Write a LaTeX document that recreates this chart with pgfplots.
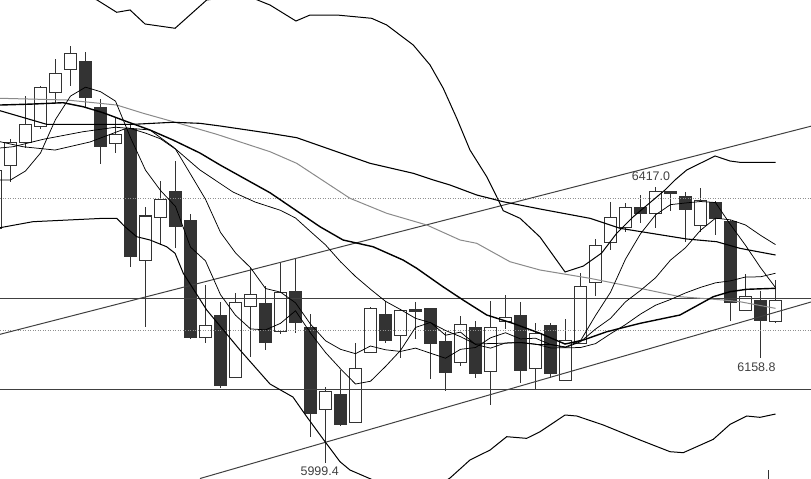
\documentclass[border=0pt]{standalone}
\usepackage{pgfplots}
\pgfplotsset{compat=1.18}
\usepackage{pgfplotstable}
\usepackage{fontspec}
\setmainfont{Liberation Sans}

\definecolor{candle}{HTML}{333333}
\definecolor{lvl}{HTML}{404040}
\definecolor{ma60}{HTML}{8A8A8A}
\definecolor{dots}{HTML}{909090}

% candles: index, open, high, low, close
\pgfplotstableread{
k o h l c
-1 6355.0 6445.8 6349.0 6442.8
0 6450.4 6489.7 6424.6 6484.4
1 6484.4 6554.0 6476.8 6511.9
2 6509.4 6570.3 6504.8 6567.9
3 6560.4 6610.7 6543.7 6589.1
4 6595.1 6630.4 6570.6 6619.4
7 6483.2 6523.0 6468.1 6496.8
9 6306.6 6387.3 6205.7 6373.2
10 6371.2 6426.1 6329.3 6398.5
13 6189.7 6268.8 6180.6 6208.3
15 6129.1 6257.1 6128.1 6242.6
16 6236.0 6294.1 6160.3 6254.7
18 6199.2 6302.5 6194.2 6257.8
21 6080.7 6114.9 5999.4 6107.4
23 6061.1 6180.6 6060.0 6142.8
24 6167.0 6235.5 6165.9 6233.5
26 6192.1 6231.0 6157.9 6229.5
30 6151.8 6221.9 6146.7 6209.3
32 6138.7 6244.6 6087.2 6204.8
33 6214.3 6253.7 6201.8 6219.9
35 6142.8 6211.8 6111.4 6195.7
37 6125.1 6217.4 6125.1 6185.6
38 6180.6 6287.4 6180.6 6267.3
39 6272.9 6338.4 6252.6 6329.3
40 6333.4 6394.8 6321.7 6371.2
41 6355.5 6392.4 6349.0 6386.4
43 6377.3 6417.0 6355.5 6410.3
46 6358.5 6416.0 6348.5 6397.4
49 6229.9 6285.4 6229.5 6251.1
51 6214.3 6276.4 6210.8 6246.1
}\upcandles

\pgfplotstableread{
k o h l c
5 6607.7 6621.8 6536.1 6552.2
6 6537.7 6549.8 6451.4 6478.0
8 6504.4 6510.9 6295.6 6312.7
11 6411.0 6456.4 6324.8 6357.0
12 6367.1 6376.2 6187.1 6189.1
14 6223.4 6243.5 6113.4 6117.5
17 6241.1 6267.3 6170.4 6181.5
19 6259.7 6307.7 6195.7 6212.4
20 6204.8 6224.5 6039.3 6074.7
22 6102.4 6140.2 6055.5 6058.0
25 6224.9 6244.6 6180.6 6185.6
27 6231.7 6242.6 6186.6 6229.5
28 6233.5 6234.0 6126.1 6180.6
29 6184.1 6198.1 6108.9 6136.7
31 6204.8 6214.3 6127.6 6135.2
34 6223.4 6243.5 6121.0 6139.1
36 6208.3 6210.8 6127.6 6135.2
42 6386.4 6405.0 6363.1 6377.3
44 6411.0 6411.0 6380.8 6407.2
45 6403.5 6409.1 6333.9 6383.3
47 6394.4 6395.9 6344.4 6369.7
48 6364.6 6367.1 6214.8 6242.6
50 6246.1 6259.7 6158.8 6214.8
}\downcandles

\pgfplotsset{
  bar/.style 2 args={draw=none, no markers, forget plot,
    error bars/.cd, y dir=both, y explicit, error mark=none,
    error bar style={solid, line width=#1, draw=#2}},
  thin/.style={black, line width=0.75bp, no markers},
}

\begin{document}
\begin{tikzpicture}
\begin{axis}[
  width=811bp, height=479bp, scale only axis,
  xmin=-0.7, xmax=53.3667,
  ymin=5975.3, ymax=6700,
  ticks=none, axis line style={draw=none},
  clip=true,
]

% wicks
\addplot[bar={1bp}{candle}] table[x=k, y expr={(\thisrow{h}+\thisrow{l})/2},
  y error expr={(\thisrow{h}-\thisrow{l})/2}] {\upcandles};
\addplot[bar={1bp}{candle}] table[x=k, y expr={(\thisrow{h}+\thisrow{l})/2},
  y error expr={(\thisrow{h}-\thisrow{l})/2}] {\downcandles};

% bodies
\addplot[bar={13bp}{candle}]
  table[x=k, y expr={(\thisrow{o}+\thisrow{c})/2},
  y error expr={abs(\thisrow{c}-\thisrow{o})/2+0.76}] {\upcandles};
\addplot[bar={11bp}{white}]
  table[x=k, y expr={(\thisrow{o}+\thisrow{c})/2},
  y error expr={abs(\thisrow{c}-\thisrow{o})/2-0.76}] {\upcandles};
\addplot[bar={13bp}{candle}]
  table[x=k, y expr={(\thisrow{o}+\thisrow{c})/2},
  y error expr={abs(\thisrow{c}-\thisrow{o})/2+0.76}] {\downcandles};

% dotted grid levels
\addplot[dots, line width=0.7bp, dash pattern=on 1bp off 1.5bp] coordinates {(-0.7,6400) (53.37,6400)};
\addplot[dots, line width=0.7bp, dash pattern=on 1bp off 1.5bp] coordinates {(-0.7,6200.7) (53.37,6200.7)};

% horizontal levels
\addplot[lvl, line width=1bp] coordinates {(-0.7,6248.4) (53.37,6248.4)};
\addplot[lvl, line width=1bp] coordinates {(-0.7,6111.0) (53.37,6111.0)};

% trend lines
\addplot[lvl, line width=1bp] coordinates {(-0.7,6194.2) (53.37,6509.1)};
\addplot[lvl, line width=1bp] coordinates {(12.63,5976.0) (53.37,6243.1)};

% Bollinger upper
\addplot[black, line width=1bp, no markers] coordinates {
(-0.7,6727.2) (3.5,6721.2) (4.83,6707.6) (5.77,6700) (7.08,6681.4) (7.97,6684.9)
(8.97,6663.7) (10.97,6657.2) (13.08,6700) (14.63,6704.5) (16.3,6701.5) (17.3,6692.4)
(19.03,6668.2) (19.97,6677.3) (21.75,6677.3) (24.08,6672.3) (25.08,6662.2) (26.85,6631.9)
(27.97,6601.7) (28.85,6566.4) (29.75,6521.0) (30.63,6473.1) (31.75,6432.6) (32.52,6397.4)
(32.85,6381.2) (33.97,6369.7) (35.3,6341.4) (36.97,6288.5) (38.19,6297.5) (39.41,6317.2)
(40.41,6347.0) (41.52,6372.1) (43.63,6412.5) (44.3,6427.7) (45.08,6442.8) (46.97,6464.0)
(47.97,6456.4) (48.63,6454.4) (51,6454.4)
};

% Bollinger lower
\addplot[black, line width=1bp, no markers] coordinates {
(-0.7,6355.5) (1.5,6364.6) (6.19,6369.7) (7.08,6369.7) (7.63,6357.0) (8.41,6341.9)
(9.3,6336.9) (10.41,6326.7) (10.97,6316.8) (11.52,6286.5) (13.08,6231.0) (15.3,6170.4)
(17.3,6119.0) (18.83,6099.3) (19.75,6069.5) (20.97,6031.7) (21.97,6001.4) (22.63,5988.9)
(24.17,5973.8) (25.97,5958.6) (27.97,5957.1) (29.3,5976.8) (30.63,6004.0) (31.97,6019.1)
(33.08,6039.3) (34.41,6036.8) (35.3,6046.8) (36.97,6072.1) (37.75,6070.6) (39.52,6057.0)
(41.97,6034.3) (43.97,6016.6) (44.85,6015.1) (46.85,6035.3) (47.97,6058.0) (49.08,6070.6)
(49.97,6068.6) (51,6073.6)
};

% gray long average
\addplot[ma60, line width=1bp, no markers] coordinates {
(-0.7,6551.3) (3.75,6548.7) (7.08,6541.1) (8.85,6528.6) (11.08,6514.4) (13.75,6496.8)
(17.3,6470.5) (19.08,6452.9) (22.63,6400.0) (25.08,6377.3) (27.75,6359.6) (29.97,6336.9)
(31.08,6331.9) (33.3,6304.0) (35.3,6291.5) (38.63,6278.9) (41.97,6263.8) (44.63,6251.1)
(47.52,6246.1) (48.63,6243.5) (51,6233.5)
};

% medium black average
\addplot[black, line width=1.1bp, no markers] coordinates {
(-0.7,6532.5) (2.41,6511.9) (8.17,6511.9) (10.83,6515.0) (12.63,6513.4) (13.97,6509.4)
(17.3,6498.3) (19.08,6491.7) (21.75,6470.5) (23.97,6452.9) (26.85,6437.8) (28.19,6427.7)
(29.3,6420.1) (31.08,6405.0) (32.85,6394.8) (35.3,6383.8) (38.63,6369.7) (40.63,6354.6)
(45.08,6338.4) (47.08,6334.3) (48.63,6324.3) (51,6314.2)
};

% Bollinger middle (thick)
\addplot[black, line width=1.4bp, no markers] coordinates {
(-0.7,6541.1) (1.5,6542.6) (3.5,6544.6) (4.83,6538.6) (6.17,6529.5) (7.77,6515.9)
(9.3,6503.3) (10.83,6488.2) (12.63,6468.5) (13.97,6450.4) (17.3,6408.4) (20.63,6357.0)
(22.17,6336.9) (24.17,6326.7) (26.17,6306.6) (27.08,6294.1) (28.83,6266.2) (30.17,6246.1)
(31.75,6223.4) (33.5,6210.8) (35.3,6195.7) (36.97,6179.5) (38.19,6185.6) (39.75,6198.1)
(41.97,6210.8) (44.63,6223.4) (46.85,6251.1) (47.97,6258.7) (49.08,6262.3) (51,6263.8)
};

% MA20
\addplot[thin] coordinates {
(-0.7,6485.6) (0.83,6478.0) (2.97,6473.0) (5.3,6485.2) (7.77,6506.3) (9.3,6503.3)
(10.83,6478.0) (12.63,6442.8) (14.83,6409.5) (16.3,6394.4) (18,6381.8) (19,6370.2)
(20,6349.7) (21,6329.5) (22,6304.0) (23,6281.7) (24,6262.4) (25,6244.1) (26,6231.7)
(27,6218.4) (28,6211.8) (29,6200.0) (30,6190.6) (31,6179.4) (32,6180.3) (33,6180.7)
(34,6182.0) (35,6179.5) (36,6173.6) (37,6173.8) (38,6174.2) (39,6180.1) (40,6195.0)
(41,6208.9) (42,6224.8) (43,6238.2) (44,6246.9) (45,6256.8) (46,6265.2) (47,6272.1)
(48,6275.1) (49,6280.9) (50,6281.2) (51,6286.6)
};

% MA10
\addplot[thin] coordinates {
(-0.7,6476.1) (0.17,6478.0) (2.17,6489.2) (4.83,6500.7) (7,6507.5) (8,6505.6) (9,6498.6)
(10,6490.0) (11,6474.4) (12,6436.6) (13,6398.5) (14,6348.4) (15,6317.4) (16,6295.0)
(17,6263.5) (18,6258.0) (19,6241.9) (20,6209.5) (21,6184.5) (22,6171.5) (23,6164.9)
(24,6176.5) (25,6170.8) (26,6168.3) (27,6173.3) (28,6165.6) (29,6158.0) (30,6171.5)
(31,6174.2) (32,6188.9) (33,6196.6) (34,6187.2) (35,6188.3) (36,6178.8) (37,6174.2)
(38,6182.9) (39,6202.1) (40,6218.3) (41,6243.4) (42,6260.6) (43,6279.7) (44,6306.5)
(45,6325.2) (46,6351.6) (47,6369.9) (48,6367.4) (49,6359.6) (50,6344.0) (51,6329.9)
};

% MA5
\addplot[thin] coordinates {
(-0.7,6427.7) (0,6427.7) (1,6441.3) (2,6468.5) (3,6519.2) (4,6554.6) (5,6568.1)
(6,6561.3) (7,6547.0) (8,6491.8) (9,6442.6) (10,6411.8) (11,6387.6) (12,6326.1)
(13,6305.3) (14,6254.1) (15,6223.0) (16,6202.4) (17,6200.9) (18,6210.8) (19,6229.8)
(20,6196.2) (21,6166.7) (22,6142.0) (23,6119.0) (24,6123.2) (25,6145.5) (26,6169.8)
(27,6204.6) (28,6212.2) (29,6192.8) (30,6197.5) (31,6178.8) (32,6173.3) (33,6181.2)
(34,6181.6) (35,6178.9) (36,6178.9) (37,6175.1) (38,6184.5) (39,6222.6) (40,6257.8)
(41,6308.0) (42,6346.3) (43,6374.9) (44,6390.4) (45,6392.9) (46,6395.1) (47,6393.6)
(48,6360.0) (49,6328.9) (50,6295.1) (51,6264.9)
};

% marker at bottom right
\addplot[candle, line width=1bp] coordinates {(50.52,5988.9) (50.52,5970)};

% extreme labels
\node[text=lvl, font=\fontsize{12.5}{14}\selectfont, inner sep=0pt] at (axis cs:42.7,6433.0) {6417.0};
\node[text=lvl, font=\fontsize{12.5}{14}\selectfont, inner sep=0pt] at (axis cs:20.61,5986.9) {5999.4};
\node[text=lvl, font=\fontsize{12.5}{14}\selectfont, inner sep=0pt] at (axis cs:49.73,6144.7) {6158.8};
\end{axis}
\end{tikzpicture}
\end{document}
